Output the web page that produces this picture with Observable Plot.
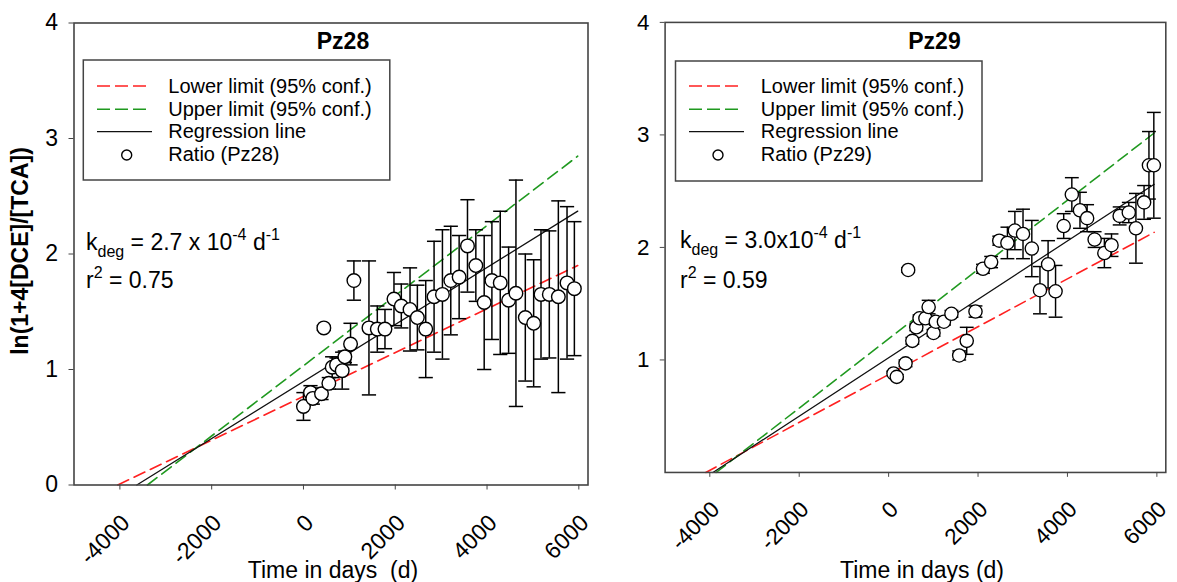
<!DOCTYPE html>
<html><head><meta charset="utf-8">
<script src="https://cdn.jsdelivr.net/npm/d3@7"></script>
<script src="https://cdn.jsdelivr.net/npm/@observablehq/plot@0.6"></script>
<style>
html,body{margin:0;padding:0;background:#fff;overflow:hidden;}
#wrap{position:relative;width:1177px;height:582px;overflow:hidden;font-family:"Liberation Sans",Arial,sans-serif;color:#000;}
.panel{position:absolute;top:0;}
#ov{position:absolute;left:0;top:0;pointer-events:none;}
</style></head><body><div id="wrap"></div>
<script>
// ---------- data ----------
const xTicks = [-4000, -2000, 0, 2000, 4000, 6000];
const yTicksLeft = [0, 1, 2, 3, 4];
const yTicksRight = [1, 2, 3, 4];

const pz28Time  = [0, 153, 204, 393, 444, 553, 626, 721, 844, 902, 1026, 1099, 1427, 1609, 1776, 1972, 2132, 2322, 2482, 2664, 2846, 3028, 3210, 3392, 3574, 3756, 3938, 4106, 4288, 4470, 4630, 4834, 5016, 5176, 5357, 5554, 5743, 5903];
const pz28Ratio = [0.68, 0.80, 0.75, 0.79, 1.36, 0.88, 1.02, 1.04, 0.99, 1.11, 1.22, 1.77, 1.36, 1.35, 1.35, 1.61, 1.55, 1.52, 1.45, 1.35, 1.63, 1.65, 1.77, 1.80, 2.07, 1.90, 1.58, 1.77, 1.75, 1.60, 1.66, 1.45, 1.40, 1.65, 1.65, 1.63, 1.75, 1.70];
const pz28Err   = [0.12, 0.06, 0.05, 0.05, 0.02, 0.05, 0.09, 0.06, 0.16, 0.05, 0.18, 0.17, 0.58, 0.20, 0.17, 0.23, 0.19, 0.36, 0.28, 0.42, 0.48, 0.56, 0.47, 0.36, 0.40, 0.31, 0.58, 0.51, 0.62, 0.46, 0.98, 0.55, 0.55, 0.56, 0.55, 0.83, 0.66, 0.58];
const pz28Lower = [[-4046, 0], [5976, 1.90]];
const pz28Upper = [[-3400, 0], [5976, 2.847]];
const pz28Reg   = [[-3631, 0], [5976, 2.371]];

const pz29Time  = [109, 182, 378, 437, 531, 619, 692, 823, 895, 1004, 1055, 1237, 1405, 1579, 1747, 1943, 2111, 2293, 2475, 2657, 2824, 3006, 3203, 3385, 3567, 3734, 3916, 4098, 4280, 4440, 4608, 4826, 4986, 5168, 5372, 5532, 5714, 5823, 5932];
const pz29Ratio = [0.88, 0.85, 0.97, 1.80, 1.17, 1.29, 1.37, 1.37, 1.47, 1.24, 1.34, 1.34, 1.41, 1.04, 1.17, 1.43, 1.81, 1.87, 2.06, 2.04, 2.15, 2.12, 1.99, 1.62, 1.85, 1.61, 2.19, 2.47, 2.33, 2.26, 2.07, 1.95, 2.02, 2.28, 2.31, 2.17, 2.40, 2.73, 2.73];
const pz29Err   = [0.02, 0.02, 0.03, 0.02, 0.03, 0.03, 0.03, 0.03, 0.06, 0.03, 0.03, 0.03, 0.03, 0.04, 0.12, 0.05, 0.04, 0.05, 0.04, 0.14, 0.17, 0.22, 0.25, 0.21, 0.21, 0.23, 0.11, 0.15, 0.16, 0.12, 0.07, 0.13, 0.10, 0.08, 0.09, 0.31, 0.15, 0.30, 0.47];
const pz29Lower = [[-4090, 0], [5940, 2.134]];
const pz29Upper = [[-3858, 0], [5940, 3.017]];
const pz29Reg   = [[-3930, 0], [5940, 2.561]];

const RED = "#ff2020", GREEN = "#1f991f", AXIS = "#444";

function makePanel(time, ratio, err, lower, upper, reg, yTicks) {
  const pts = time.map((t, i) => ({t, r: ratio[i], e: err[i]}));
  const capHalf = 155; // days
  return Plot.plot({
    width: 600, height: 582,
    marginLeft: 73.5, marginRight: 12.5, marginTop: 22.5, marginBottom: 97.5,
    style: {fontFamily: "'Liberation Sans', Arial, sans-serif", fontSize: "23px", color: "#000", background: "transparent", overflow: "visible"},
    x: {domain: [-5000, 6200]},
    y: {domain: [0, 4]},
    marks: [
      Plot.line(lower, {x: d => d[0], y: d => d[1], stroke: RED, strokeWidth: 1.6, strokeDasharray: "12,6"}),
      Plot.line(upper, {x: d => d[0], y: d => d[1], stroke: GREEN, strokeWidth: 1.6, strokeDasharray: "12,6"}),
      Plot.line(reg, {x: d => d[0], y: d => d[1], stroke: "#111", strokeWidth: 1.3}),
      Plot.ruleX(pts, {x: "t", y1: d => d.r - d.e, y2: d => d.r + d.e, stroke: "#000", strokeWidth: 1.5}),
      Plot.link(pts, {x1: d => d.t - capHalf, x2: d => d.t + capHalf, y1: d => d.r + d.e, y2: d => d.r + d.e, stroke: "#000", strokeWidth: 1.5}),
      Plot.link(pts, {x1: d => d.t - capHalf, x2: d => d.t + capHalf, y1: d => d.r - d.e, y2: d => d.r - d.e, stroke: "#000", strokeWidth: 1.5}),
      Plot.dot(pts, {x: "t", y: "r", r: 6.8, fill: "#fff", stroke: "#000", strokeWidth: 1.4}),
      Plot.frame({stroke: AXIS, strokeWidth: 1.6}),
      Plot.axisY({ticks: yTicks, tickSize: 5, tickPadding: 11, label: null, stroke: AXIS, fontSize: 23, tickFormat: d => String(d)}),
      Plot.axisX({ticks: xTicks, tickSize: 5, label: null, stroke: AXIS, tickFormat: d => String(d), text: null}),
      Plot.axisX({ticks: xTicks, tickSize: 0, tickPadding: 21, tickRotate: -45, label: null, fontSize: 23, tickFormat: d => String(d), dx: 6, dy: 13})
    ]
  });
}

const wrap = document.getElementById("wrap");
const p1 = makePanel(pz28Time, pz28Ratio, pz28Err, pz28Lower, pz28Upper, pz28Reg, yTicksLeft);
const d1 = document.createElement("div"); d1.className = "panel"; d1.style.left = "0px"; d1.appendChild(p1); wrap.appendChild(d1);
const p2 = makePanel(pz29Time, pz29Ratio, pz29Err, pz29Lower, pz29Upper, pz29Reg, yTicksRight);
const d2 = document.createElement("div"); d2.className = "panel"; d2.style.left = "592.5px"; d2.appendChild(p2); wrap.appendChild(d2);

// ---------- annotations ----------
function legend(bx, by, sx, tx, cx, name) {
  const rows = [86, 109.3, 131.7, 155];
  return `
  <rect x="${bx}" y="${by}" width="306.5" height="120" fill="none" stroke="${AXIS}" stroke-width="1.5"/>
  <line x1="${sx}" x2="${sx + 53}" y1="${rows[0]}" y2="${rows[0]}" stroke="${RED}" stroke-width="1.6" stroke-dasharray="13,5"/>
  <line x1="${sx}" x2="${sx + 53}" y1="${rows[1]}" y2="${rows[1]}" stroke="${GREEN}" stroke-width="1.6" stroke-dasharray="13,5"/>
  <line x1="${sx}" x2="${sx + 55}" y1="${rows[2]}" y2="${rows[2]}" stroke="#111" stroke-width="1.3"/>
  <circle cx="${cx}" cy="${rows[3]}" r="5" fill="#fff" stroke="#000" stroke-width="1.4"/>
  <g font-size="20">
    <text x="${tx}" y="92.8">Lower limit (95% conf.)</text>
    <text x="${tx}" y="115.6">Upper limit (95% conf.)</text>
    <text x="${tx}" y="138">Regression line</text>
    <text x="${tx}" y="160.8">Ratio (${name})</text>
  </g>`;
}
function kdeg(x, y, coef, yr, r2) {
  return `
  <text x="${x}" y="${y}" font-size="23">k<tspan font-size="16" dy="7">deg</tspan><tspan dy="-7"> = ${coef}</tspan><tspan font-size="16" dy="-10">-4</tspan><tspan dy="10"> d</tspan><tspan font-size="16" dy="-10">-1</tspan></text>
  <text x="${x}" y="${yr}" font-size="23">r<tspan font-size="16" dy="-10">2</tspan><tspan dy="10"> = ${r2}</tspan></text>`;
}
const ov = `<svg id="ov" width="1177" height="582" xmlns="http://www.w3.org/2000/svg" font-family="'Liberation Sans', Arial, sans-serif" fill="#000" xml:space="preserve">
  <text x="343" y="49.3" font-size="23" font-weight="bold" text-anchor="middle">Pz28</text>
  <text x="934.5" y="49.3" font-size="23" font-weight="bold" text-anchor="middle">Pz29</text>
  ${legend(83.3, 60, 97, 168.3, 126.7, "Pz28")}
  ${legend(675.5, 61, 689, 760.7, 718, "Pz29")}
  ${kdeg(86, 250, "2.7 x 10", 288, "0.75")}
  ${kdeg(680, 248.3, "3.0x10", 288.3, "0.59")}
  <text x="333" y="577.5" font-size="23" text-anchor="middle" style="white-space:pre">Time in days  (d)</text>
  <text x="922" y="577.5" font-size="23" text-anchor="middle">Time in days (d)</text>
  <text transform="translate(28,251) rotate(-90)" font-size="23" font-weight="bold" text-anchor="middle">ln(1+4[DCE]/[TCA])</text>
</svg>`;
wrap.insertAdjacentHTML("beforeend", ov);
</script>
</body></html>
